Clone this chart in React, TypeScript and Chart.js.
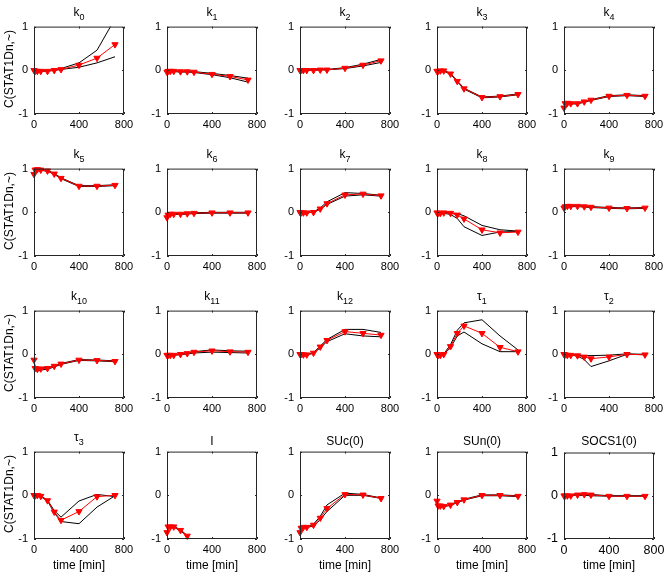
import React, { useEffect, useRef } from "react";
import { Chart, registerables } from "chart.js";
Chart.register(...registerables);

const times = [0, 10, 30, 60, 120, 180, 240, 400, 560, 720];
const xTickValues = [0, 400, 800];
const yTickValues = [-1, 0, 1];
const titleBases = ["k", "k", "k", "k", "k", "k", "k", "k", "k", "k", "k", "k", "k", "τ", "τ", "τ", "I", "SUc(0)", "SUn(0)", "SOCS1(0)"];
const titleSubs = ["0", "1", "2", "3", "4", "5", "6", "7", "8", "9", "10", "11", "12", "1", "2", "3", "", "", "", ""];
const yAxisLabel = "C(STAT1Dn,~)";
const xAxisLabel = "time [min]";

type V = number | null;
const meanValues: V[][] = [
  [0, -0.02, -0.02, -0.02, -0.02, 0, 0.02, 0.12, 0.28, 0.59],
  [-0.04, -0.02, -0.02, -0.02, -0.03, -0.03, -0.04, -0.09, -0.14, -0.22],
  [0, 0, 0, 0, 0, 0.01, 0.01, 0.05, 0.12, 0.22],
  [-0.02, -0.02, -0.01, -0.01, -0.08, -0.25, -0.42, -0.62, -0.6, -0.55],
  [-0.86, -0.76, -0.75, -0.76, -0.76, -0.72, -0.68, -0.59, -0.57, -0.59],
  [0.87, 0.97, 0.98, 0.97, 0.95, 0.88, 0.78, 0.6, 0.6, 0.62],
  [-0.12, -0.06, -0.04, -0.04, -0.04, -0.03, -0.02, -0.01, -0.01, -0.01],
  [0, -0.01, -0.01, -0.01, 0, 0.08, 0.2, 0.4, 0.42, 0.38],
  [-0.01, -0.02, -0.02, -0.01, -0.02, -0.06, -0.15, -0.4, -0.47, -0.45],
  [0.1, 0.13, 0.14, 0.14, 0.14, 0.13, 0.12, 0.1, 0.09, 0.1],
  [-0.13, -0.32, -0.34, -0.33, -0.32, -0.27, -0.22, -0.13, -0.14, -0.16],
  [-0.02, -0.02, -0.02, -0.02, 0, 0.02, 0.05, 0.08, 0.06, 0.05],
  [0, 0, -0.01, -0.01, 0.03, 0.17, 0.32, 0.52, 0.48, 0.44],
  [0, -0.02, -0.02, 0, 0.18, 0.48, 0.65, 0.48, 0.16, 0.06],
  [0, -0.01, -0.02, -0.02, -0.03, -0.06, -0.1, -0.06, 0, -0.01],
  [0, -0.01, 0, -0.02, -0.12, -0.38, -0.57, -0.37, -0.03, 0],
  [-0.85, -0.72, -0.72, -0.72, -0.8, -0.93, null, null, null, null],
  [-0.85, -0.75, -0.73, -0.73, -0.68, -0.52, -0.3, 0.02, 0.01, -0.07],
  [-0.13, -0.24, -0.24, -0.25, -0.22, -0.16, -0.1, 0, 0, -0.02],
  [0, 0, 0, 0, 0.02, 0.03, 0.02, -0.01, -0.01, -0.01],
];
const upperValues: V[][] = [
  [0, -0.01, -0.01, -0.01, -0.01, 0.01, 0.04, 0.17, 0.46, 1.18],
  [-0.03, -0.01, -0.01, -0.01, -0.02, -0.02, -0.03, -0.07, -0.12, -0.18],
  [0, 0.01, 0.01, 0.01, 0.01, 0.02, 0.02, 0.06, 0.14, 0.25],
  [-0.01, -0.01, 0, 0, -0.07, -0.24, -0.41, -0.61, -0.59, -0.54],
  [-0.85, -0.75, -0.74, -0.75, -0.75, -0.71, -0.67, -0.58, -0.56, -0.58],
  [0.88, 0.99, 1.0, 0.99, 0.96, 0.89, 0.79, 0.61, 0.61, 0.63],
  [-0.11, -0.05, -0.03, -0.03, -0.03, -0.02, -0.01, 0, 0, 0],
  [0, 0, 0, 0, 0.01, 0.1, 0.24, 0.45, 0.43, 0.39],
  [0, -0.01, -0.01, 0, -0.01, -0.03, -0.08, -0.3, -0.4, -0.43],
  [0.11, 0.14, 0.15, 0.15, 0.15, 0.14, 0.13, 0.11, 0.1, 0.11],
  [-0.12, -0.3, -0.31, -0.31, -0.3, -0.26, -0.21, -0.12, -0.13, -0.15],
  [-0.01, -0.01, -0.01, -0.01, 0.01, 0.03, 0.06, 0.1, 0.08, 0.07],
  [0, 0, 0, 0, 0.04, 0.19, 0.34, 0.57, 0.57, 0.5],
  [0, -0.01, -0.01, 0.01, 0.22, 0.55, 0.72, 0.79, 0.42, 0.1],
  [0, -0.01, -0.01, -0.01, -0.02, -0.03, -0.03, -0.02, 0.01, 0],
  [0, 0, 0, -0.01, -0.11, -0.35, -0.5, -0.13, 0.02, -0.03],
  [-0.84, -0.71, -0.71, -0.71, -0.79, -0.92, null, null, null, null],
  [-0.84, -0.73, -0.72, -0.72, -0.66, -0.48, -0.22, 0.05, 0.02, -0.06],
  [-0.12, -0.23, -0.23, -0.24, -0.21, -0.15, -0.09, 0.01, 0.01, -0.01],
  [0, 0.01, 0.01, 0.01, 0.03, 0.04, 0.03, 0, 0, 0],
];
const lowerValues: V[][] = [
  [0, -0.02, -0.02, -0.02, -0.02, 0, 0.02, 0.07, 0.17, 0.31],
  [-0.05, -0.03, -0.03, -0.03, -0.04, -0.04, -0.05, -0.1, -0.17, -0.27],
  [0, 0, 0, 0, 0, 0.01, 0.01, 0.04, 0.1, 0.18],
  [-0.03, -0.03, -0.02, -0.02, -0.09, -0.26, -0.43, -0.63, -0.61, -0.56],
  [-0.87, -0.77, -0.76, -0.77, -0.77, -0.73, -0.69, -0.6, -0.58, -0.6],
  [0.86, 0.96, 0.97, 0.96, 0.94, 0.87, 0.77, 0.59, 0.59, 0.61],
  [-0.13, -0.07, -0.05, -0.05, -0.05, -0.04, -0.03, -0.02, -0.02, -0.02],
  [0, -0.01, -0.01, -0.01, 0, 0.07, 0.18, 0.37, 0.4, 0.37],
  [-0.01, -0.02, -0.02, -0.02, -0.05, -0.14, -0.33, -0.53, -0.45, -0.44],
  [0.09, 0.12, 0.13, 0.13, 0.13, 0.12, 0.11, 0.09, 0.08, 0.09],
  [-0.14, -0.36, -0.37, -0.36, -0.34, -0.29, -0.23, -0.14, -0.15, -0.17],
  [-0.02, -0.02, -0.02, -0.02, -0.01, 0.01, 0.03, 0.05, 0.04, 0.03],
  [0, 0, -0.01, -0.01, 0.02, 0.15, 0.29, 0.47, 0.42, 0.4],
  [0, -0.02, -0.02, 0, 0.15, 0.42, 0.51, 0.24, 0.06, 0.06],
  [0, -0.01, -0.02, -0.02, -0.04, -0.12, -0.28, -0.15, 0, -0.01],
  [0, -0.01, -0.01, -0.03, -0.13, -0.4, -0.6, -0.65, -0.27, -0.01],
  [-0.86, -0.73, -0.73, -0.73, -0.81, -0.94, null, null, null, null],
  [-0.86, -0.76, -0.74, -0.74, -0.7, -0.56, -0.37, 0, 0, -0.07],
  [-0.14, -0.25, -0.25, -0.26, -0.23, -0.17, -0.11, -0.01, -0.01, -0.03],
  [0, 0, 0, 0, 0.01, 0.01, 0, -0.01, -0.01, -0.01],
];

const FONT = "'Liberation Sans', Arial, Helvetica, sans-serif";
const colLefts = [34, 167, 300, 437, 564];
const rowTops = [24, 166, 308, 449];
const BOX = 90;
const PL = 32, PR = 16, PT = 10, PB = 24;

const boxPlugin = {
  id: "boxPlugin",
  afterDraw(chart: any) {
    const { ctx, chartArea } = chart;
    const { left, right, top, bottom } = chartArea;
    ctx.save();
    ctx.strokeStyle = "#262626";
    ctx.lineWidth = 1;
    ctx.beginPath();
    ctx.rect(left + 0.5, top + 0.5, right - left - 1, bottom - top - 1);
    ctx.stroke();
    const tl = 2;
    ctx.beginPath();
    xTickValues.forEach((v) => {
      const x = Math.round(chart.scales.x.getPixelForValue(v)) + 0.5;
      ctx.moveTo(x, bottom);
      ctx.lineTo(x, bottom - tl);
      ctx.moveTo(x, top);
      ctx.lineTo(x, top + tl);
    });
    yTickValues.forEach((v) => {
      const y = Math.round(chart.scales.y.getPixelForValue(v)) + 0.5;
      ctx.moveTo(left, y);
      ctx.lineTo(left + tl, y);
      ctx.moveTo(right, y);
      ctx.lineTo(right - tl, y);
    });
    ctx.stroke();
    ctx.restore();
  },
};

function Panel({ idx }: { idx: number }) {
  const ref = useRef<HTMLCanvasElement>(null);
  const fontSize = idx === 19 ? 12.5 : 11;
  useEffect(() => {
    const mk = (arr: V[]) => times.map((t, i) => ({ x: t, y: arr[i] }));
    const chart = new Chart(ref.current as HTMLCanvasElement, {
      type: "line",
      data: {
        datasets: [
          {
            data: mk(meanValues[idx]) as any,
            borderColor: "#ff0000",
            backgroundColor: "#ff0000",
            borderWidth: 1,
            pointStyle: "triangle",
            rotation: 180,
            pointRadius: 3.6,
            pointBorderWidth: 1,
            pointBackgroundColor: "#ff0000",
            pointBorderColor: "#ff0000",
            clip: false,
            order: 0,
          } as any,
          {
            data: mk(upperValues[idx]) as any,
            borderColor: "#000000",
            borderWidth: 1,
            pointRadius: 0,
            order: 1,
          },
          {
            data: mk(lowerValues[idx]) as any,
            borderColor: "#000000",
            borderWidth: 1,
            pointRadius: 0,
            order: 2,
          },
        ],
      },
      options: {
        animation: false,
        responsive: false,
        maintainAspectRatio: false,
        events: [],
        plugins: { legend: { display: false }, tooltip: { enabled: false }, title: { display: false } },
        layout: { padding: { top: PT, right: PR, left: 0, bottom: 0 } },
        scales: {
          x: {
            type: "linear",
            min: 0,
            max: 800,
            afterBuildTicks: (s: any) => {
              s.ticks = xTickValues.map((v) => ({ value: v }));
            },
            afterFit: (s: any) => {
              s.height = PB;
            },
            grid: { display: false, drawTicks: false },
            border: { display: false },
            ticks: { padding: 4, color: "#000", maxRotation: 0, autoSkip: false, font: { family: FONT, size: fontSize } },
          },
          y: {
            type: "linear",
            min: -1,
            max: 1,
            afterBuildTicks: (s: any) => {
              s.ticks = yTickValues.map((v) => ({ value: v }));
            },
            afterFit: (s: any) => {
              s.width = PL;
            },
            grid: { display: false, drawTicks: false },
            border: { display: false },
            ticks: { padding: 6, color: "#000", autoSkip: false, font: { family: FONT, size: fontSize } },
          },
        },
      } as any,
      plugins: [boxPlugin],
    });
    return () => chart.destroy();
  }, [idx]);
  const row = Math.floor(idx / 5);
  const col = idx % 5;
  const left = colLefts[col] - PL;
  const top = rowTops[row] - PT;
  const w = BOX + PL + PR;
  const h = BOX + PT + PB;
  return (
    <canvas
      ref={ref}
      width={w}
      height={h}
      style={{ position: "absolute", left, top, width: w, height: h }}
    />
  );
}

export default function App() {
  const panels = titleBases.map((_, i) => i);
  return (
    <div
      style={{
        position: "absolute",
        left: 0,
        top: 0,
        width: 668,
        height: 577,
        background: "#fff",
        overflow: "hidden",
        fontFamily: FONT,
        color: "#000",
      }}
    >
      {panels.map((i) => (
        <Panel key={"p" + i} idx={i} />
      ))}
      {panels.map((i) => {
        const row = Math.floor(i / 5);
        const col = i % 5;
        return (
          <div
            key={"t" + i}
            style={{
              position: "absolute",
              left: colLefts[col] - 30,
              width: BOX + 60,
              bottom: 577 - (rowTops[row] - 2),
              textAlign: "center",
              fontSize: 12,
              lineHeight: "12px",
              whiteSpace: "nowrap",
            }}
          >
            {titleBases[i]}
            {titleSubs[i] ? (
              <sub style={{ fontSize: 9, verticalAlign: "-4px", lineHeight: "9px" }}>{titleSubs[i]}</sub>
            ) : null}
          </div>
        );
      })}
      {rowTops.map((t, r) => (
        <div
          key={"yl" + r}
          style={{
            position: "absolute",
            left: 9 - 60,
            top: t + BOX / 2 - 7,
            width: 120,
            height: 14,
            lineHeight: "14px",
            textAlign: "center",
            fontSize: 12,
            transform: "rotate(-90deg)",
            whiteSpace: "nowrap",
          }}
        >
          {yAxisLabel}
        </div>
      ))}
      {colLefts.map((l, c) => (
        <div
          key={"xl" + c}
          style={{
            position: "absolute",
            left: l - 20,
            top: rowTops[3] + BOX + 19,
            width: BOX + 40,
            height: 14,
            lineHeight: "14px",
            textAlign: "center",
            fontSize: 12,
            whiteSpace: "nowrap",
          }}
        >
          {xAxisLabel}
        </div>
      ))}
    </div>
  );
}
